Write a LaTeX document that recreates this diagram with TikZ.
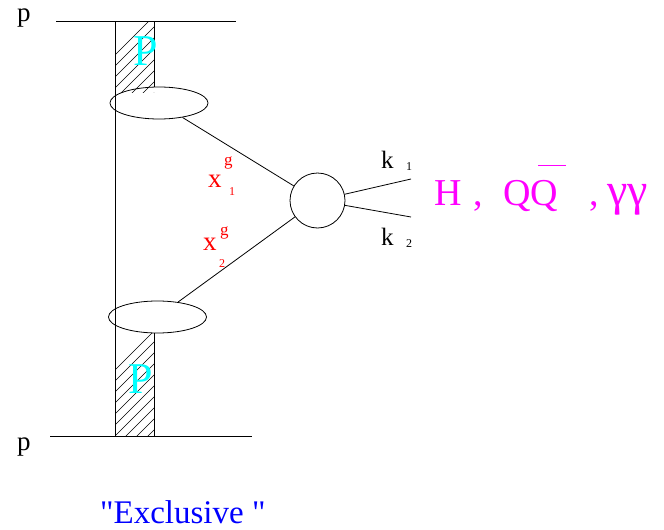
\documentclass[tikz,border=0pt]{standalone}
\usepackage{fontspec}
\setmainfont{Liberation Serif}
\newfontfamily\plainserif{Liberation Serif}
\usetikzlibrary{shapes.geometric}
\definecolor{pomcyan}{RGB}{0,255,255}
\definecolor{finmag}{RGB}{255,0,255}
\definecolor{frred}{RGB}{255,0,0}
\definecolor{exblue}{RGB}{0,0,255}
\tikzset{ln/.style={line width=0.8pt},
  blob/.style={draw, ellipse, line width=0.8pt, minimum width=98pt, minimum height=32pt, inner sep=0pt},
  lbl/.style={anchor=base west, inner sep=0pt}}
\newcommand{\fs}[1]{\fontsize{#1}{#1}\selectfont}

\begin{document}
\begin{tikzpicture}[x=1pt, y=-1pt]
  \useasboundingbox (0,0) rectangle (664,530);
  % proton lines
  \coordinate (pa) at (56,21);  \coordinate (pb) at (236,21);
  \coordinate (qa) at (50,436); \coordinate (qb) at (252,436);
  \draw[ln] (pa) -- (pb);
  \draw[ln] (qa) -- (qb);
  \node[lbl, font=\fs{27}] (ptop) at (17,21) {p};
  \node[lbl, font=\fs{27}] (pbot) at (17,450) {p};
  % pomeron bands, hatched
  \begin{scope}
    \clip (115,21) rectangle (154,92);
    \foreach \i in {0,...,11}{\draw[line width=0.6pt] (70+11*\i,100) -- (160+11*\i,10);}
  \end{scope}
  \begin{scope}
    \clip (115,333) rectangle (154,436);
    \foreach \i in {0,...,14}{\draw[line width=0.6pt] (40+11*\i,445) -- (160+11*\i,325);}
  \end{scope}
  \node[blob] (ga) at (159,103) {};
  \node[blob] (gb) at (157.5,317) {};
  \draw[ln] (115,21) -- (115,436);
  \draw[ln] (154,21) -- (ga.north -| 154,0);
  \draw[ln] (gb.south -| 154,0) -- (154,436);
  \node[lbl, font=\fs{44}, text=pomcyan] (pma) at (133,65) {P};
  \node[lbl, font=\fs{44}, text=pomcyan] (pmb) at (128,393) {P};
  % hard vertex
  \node[draw, circle, ln, minimum size=55pt, inner sep=0pt] (hv) at (317.5,200.5) {};
  \draw[ln] (ga) -- (hv);
  \draw[ln] (gb) -- (hv);
  \coordinate (ka) at (411,179);
  \coordinate (kb) at (411,217);
  \draw[ln] (hv) -- (ka);
  \draw[ln] (hv) -- (kb);
  % gluon fractions
  \begin{scope}[text=frred]
    \node[lbl, font=\fs{27}] (xa) at (208,187) {x};
    \node[lbl, font=\fs{17}] (xag) at (224,165) {g};
    \node[lbl, font=\fs{12}] (xai) at (229,195) {1};
    \node[lbl, font=\fs{27}] (xb) at (203,250) {x};
    \node[lbl, font=\fs{17}] (xbg) at (220,235) {g};
    \node[lbl, font=\fs{12}] (xbi) at (219,267) {2};
  \end{scope}
  % outgoing momenta
  \node[lbl, font=\fs{25}] (ka1) at (381,168) {k};
  \node[lbl, font=\fs{12}] (ka2) at (406,170) {1};
  \node[lbl, font=\fs{25}] (kb1) at (381,245) {k};
  \node[lbl, font=\fs{12}] (kb2) at (406,247) {2};
  % final states
  \node[lbl, font=\fs{38}, text=finmag] (fs) at (434,205)
    {H\hspace{12pt},\hspace{20pt}QQ\rlap{\hspace{-20pt}\raisebox{39pt}{\rule{28pt}{0.8pt}}}\hspace{31pt},\hspace{9pt}{\fs{46}γγ}};
  \node[lbl, font=\plainserif\fs{33}, text=exblue] (excl) at (100,523) {"Exclusive "};
\end{tikzpicture}
\end{document}
